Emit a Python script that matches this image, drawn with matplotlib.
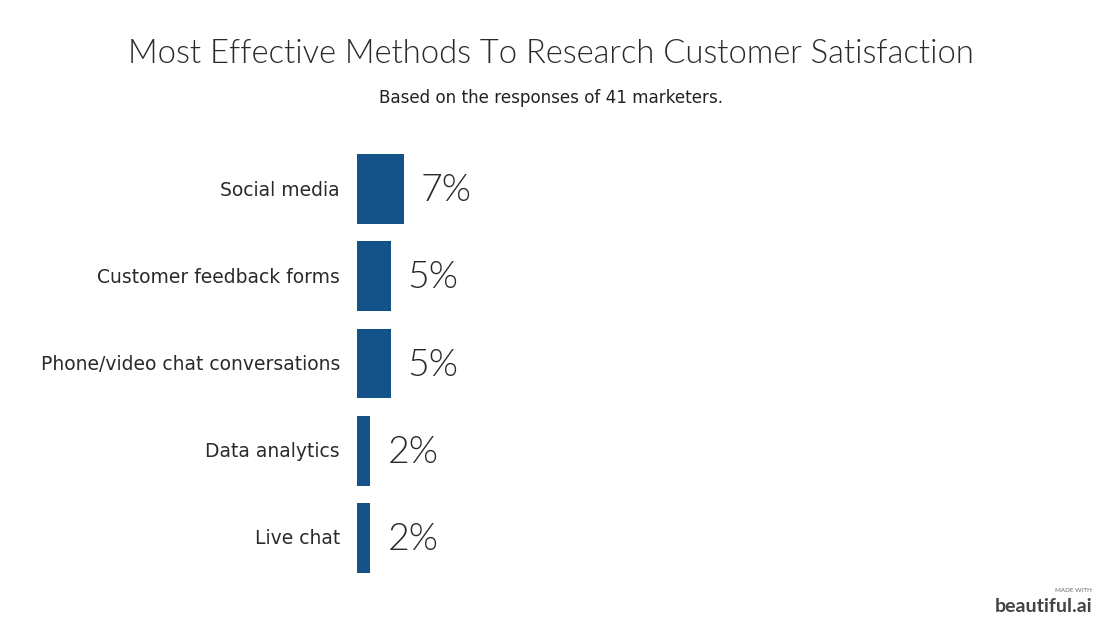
import matplotlib
matplotlib.use('Agg')
import matplotlib.pyplot as plt

# data
categories = ['Social media', 'Customer feedback forms',
              'Phone/video chat conversations', 'Data analytics', 'Live chat']
values = [7, 5, 5, 2, 2]
title = 'Most Effective Methods To Research Customer Satisfaction'
subtitle = 'Based on the responses of 41 marketers.'

bar_color = '#14528a'
plt.rcParams['font.family'] = ['Lato', 'DejaVu Sans']
label_font = ['DejaVu Sans']

W, H = 1102, 625
fig = plt.figure(figsize=(W/100, H/100), dpi=100)
fig.patch.set_facecolor('white')

ax = fig.add_axes([357/W, (H-581.6)/H, 700/W, 436.2/H])
ypos = list(range(len(categories)))
ax.barh(ypos, values, height=0.8, color=bar_color)
ax.set_xlim(0, 700/6.71)
ax.set_ylim(len(categories)-0.5, -0.5)
ax.axis('off')

for y, cat, v in zip(ypos, categories, values):
    ax.annotate(cat, (0, y), xytext=(-17, -1), textcoords='offset pixels',
                ha='right', va='center', fontsize=13.5, color='#2a2a2a',
                family=label_font)
    ax.annotate(f'{v}%', (v, y), xytext=(17, -2), textcoords='offset pixels',
                ha='left', va='center', fontsize=27, color='#2a2a2a',
                fontweight=300)

fig.text(0.5, 1-54/H, title, ha='center', va='center', fontsize=23.6,
         color='#2a2a2a', fontweight=300)
fig.text(0.5, 1-98/H, subtitle, ha='center', va='center', fontsize=12.1,
         color='#222222', family=label_font)

# watermark
fig.text(1092/W, 1-591/H, 'MADE WITH', ha='right', va='center', fontsize=4.5,
         color='#666666')
fig.text(1092/W, 1-606/H, 'beautiful.ai', ha='right', va='center',
         fontsize=14, color='#444444', fontweight='bold')

fig.savefig('out.png', dpi=100)
